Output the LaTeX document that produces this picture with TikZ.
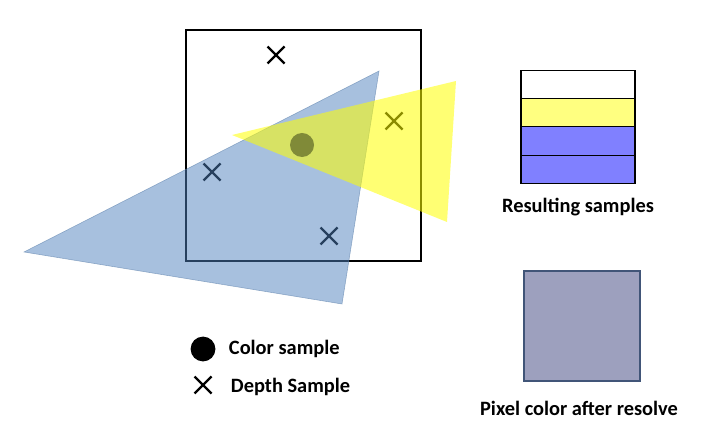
\documentclass[tikz,border=0pt]{standalone}
\usepackage{fontspec}
\setmainfont{Carlito}
\usetikzlibrary{positioning}
\definecolor{triblue}{RGB}{79,129,189}
\definecolor{triyellow}{RGB}{255,255,0}
\definecolor{rowyellow}{RGB}{255,255,128}
\definecolor{rowblue}{RGB}{128,128,255}
\definecolor{resolved}{RGB}{157,160,190}
\definecolor{resolvededge}{RGB}{65,85,120}
\definecolor{olivedot}{RGB}{128,138,56}

\begin{document}
\begin{tikzpicture}[x=0.025cm,y=-0.025cm,font=\bfseries\fontsize{14.5}{16}\selectfont,
  xmark/.pic={\draw[line width=1.6pt] (-8.5,-8.5) -- (8.5,8.5) (-8.5,8.5) -- (8.5,-8.5);},
  row/.style={draw,line width=0.8pt,inner sep=0pt,outer sep=0pt,minimum width=2.85cm,minimum height=0.706cm,fill=#1},
  row/.default=white]
\useasboundingbox (0,0) rectangle (720,438);

% pixel area with depth samples
\draw[line width=1.1pt] (186,30) rectangle (421,261);
\pic at (276,55) {xmark};
\pic at (394,121) {xmark};
\pic at (212,172) {xmark};
\pic at (329,236) {xmark};

% overlapping triangles
\fill[triblue,opacity=.5] (24,252) -- (379,71) -- (342,304) -- cycle;
\draw[triblue!70!gray,line width=0.4pt,opacity=.6] (24,252) -- (379,71) -- (342,304) -- cycle;
\fill[triyellow,opacity=.55] (232,135) -- (456,81) -- (447,222) -- cycle;
\node[circle,fill=olivedot,minimum size=0.6cm,inner sep=0pt] (csample) at (302,145) {};

% resulting samples
\node[row] (r1) at (578,84.5) {};
\node[row=rowyellow,below=0pt of r1] (r2) {};
\node[row=rowblue,below=0pt of r2] (r3) {};
\node[row=rowblue,below=0pt of r3] (r4) {};
\node (rlabel) at (578,207) {Resulting samples};

% resolved pixel
\node[draw=resolvededge,fill=resolved,line width=0.9pt,minimum width=2.9cm,minimum height=2.75cm] (resolve) at (582,326) {};
\node (plabel) at (579,408) {Pixel color after resolve};

% legend
\node[circle,fill=black,minimum size=0.62cm,inner sep=0pt] (ldot) at (203,349) {};
\node[anchor=west] (ltext1) at (224,349) {Color sample};
\pic at (203,385) {xmark};
\node[anchor=west] (ltext2) at (226,387) {Depth Sample};
\end{tikzpicture}
\end{document}
